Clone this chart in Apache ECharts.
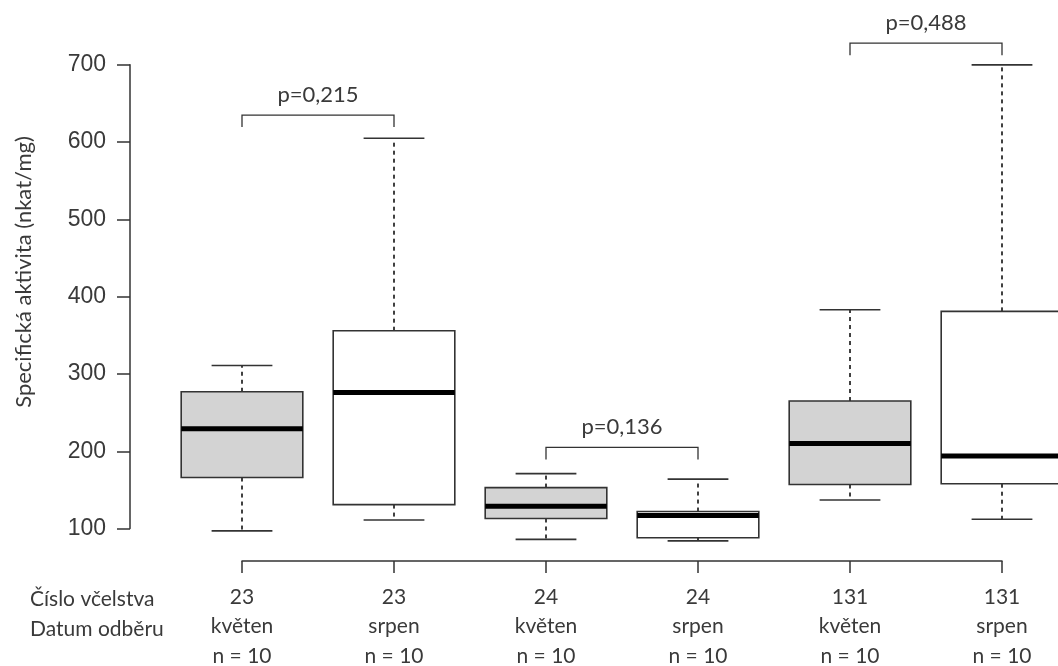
<!DOCTYPE html>
<html lang="cs">
<head>
<meta charset="utf-8">
<title>Specifická aktivita</title>
<script src="https://cdn.jsdelivr.net/npm/echarts@6/dist/echarts.min.js"></script>
<style>
  html, body { margin: 0; padding: 0; background: #ffffff; }
  #chart { width: 1058px; height: 666px; }
</style>
</head>
<body>
<div id="chart"></div>
<script>
// Colony numbers, sampling months and sample sizes for each group
const colonies = ['23', '23', '24', '24', '131', '131'];
const months = ['květen', 'srpen', 'květen', 'srpen', 'květen', 'srpen'];
const sampleSizes = [10, 10, 10, 10, 10, 10];

// Box-plot statistics (nkat/mg)
const lowWhisker  = [97, 111, 86, 84, 137, 112];
const lowerQuart  = [166, 131, 113, 88, 157, 158];
const medians     = [229, 276, 129, 117, 210, 194];
const upperQuart  = [277, 356, 153, 122, 265, 381];
const highWhisker = [311, 605, 171, 164, 383, 700];

// Pairwise comparisons: group indices, bracket level and p-value
const pairFrom = [0, 2, 4];
const pairTo = [1, 3, 5];
const bracketLevel = [635, 205, 728];
const pValues = ['p=0,215', 'p=0,136', 'p=0,488'];

// Value-axis ticks
const yTicks = [100, 200, 300, 400, 500, 600, 700];

const INK = '#333333';
const TEXT = '#3a3a3a';
const HUMANIST = 'Lato, "Open Sans", sans-serif';

// Plot area geometry: the data grid spans PLOT_MIN..PLOT_MAX,
// the visible value axis only covers the labelled tick range.
const PLOT_MIN = 58;
const PLOT_MAX = 780;
const PLOT_TOP = 3;
const PLOT_BOTTOM = 105;
const CHART_H = 666;
const pxPerUnit = (CHART_H - PLOT_TOP - PLOT_BOTTOM) / (PLOT_MAX - PLOT_MIN);
const tickMin = yTicks[0];
const tickMax = yTicks[yTicks.length - 1];
const axisGridTop = PLOT_TOP + (PLOT_MAX - tickMax) * pxPerUnit;
const axisGridBottom = PLOT_BOTTOM + (tickMin - PLOT_MIN) * pxPerUnit;

const categories = colonies.map((c, i) => c + ' ' + months[i]);
const boxData = colonies.map((c, i) => [i, lowWhisker[i], lowerQuart[i], medians[i], upperQuart[i], highWhisker[i]]);
const pairData = pValues.map((p, i) => [pairFrom[i], pairTo[i], bracketLevel[i], i]);

function renderBox(params, api) {
  const idx = api.value(0);
  const band = api.size([1, 0])[0];
  const half = band * 0.4;
  const capHalf = band * 0.2;
  const x = api.coord([idx, 0])[0];
  const yLow = api.coord([idx, api.value(1)])[1];
  const yQ1 = api.coord([idx, api.value(2)])[1];
  const yMed = api.coord([idx, api.value(3)])[1];
  const yQ3 = api.coord([idx, api.value(4)])[1];
  const yHigh = api.coord([idx, api.value(5)])[1];
  const fill = months[idx] === 'květen' ? '#d3d3d3' : '#ffffff';
  const dashed = { stroke: '#404040', lineWidth: 2, lineDash: [4, 4] };
  const solid = { stroke: INK, lineWidth: 1.6 };
  return {
    type: 'group',
    children: [
      { type: 'line', shape: { x1: x, y1: yQ3, x2: x, y2: yHigh }, style: dashed },
      { type: 'line', shape: { x1: x, y1: yQ1, x2: x, y2: yLow }, style: dashed },
      { type: 'line', shape: { x1: x - capHalf, y1: yHigh, x2: x + capHalf, y2: yHigh }, style: solid },
      { type: 'line', shape: { x1: x - capHalf, y1: yLow, x2: x + capHalf, y2: yLow }, style: solid },
      { type: 'rect', shape: { x: x - half, y: yQ3, width: half * 2, height: yQ1 - yQ3 },
        style: { fill: fill, stroke: INK, lineWidth: 1.6 } },
      { type: 'line', shape: { x1: x - half, y1: yMed, x2: x + half, y2: yMed },
        style: { stroke: '#000000', lineWidth: 5 } }
    ]
  };
}

function renderBracket(params, api) {
  const a = api.coord([api.value(0), api.value(2)]);
  const b = api.coord([api.value(1), api.value(2)]);
  const tip = 12;
  const label = pValues[api.value(3)];
  return {
    type: 'group',
    children: [
      { type: 'polyline',
        shape: { points: [[a[0], a[1] + tip], [a[0], a[1]], [b[0], b[1]], [b[0], b[1] + tip]] },
        style: { stroke: INK, lineWidth: 1.3, fill: null } },
      { type: 'text',
        style: { x: (a[0] + b[0]) / 2, y: a[1] - 20, text: label, fill: TEXT,
                 font: '22px ' + HUMANIST, align: 'center', verticalAlign: 'middle' } }
    ]
  };
}

const chart = echarts.init(document.getElementById('chart'), null, { renderer: 'canvas' });

chart.setOption({
  backgroundColor: '#ffffff',
  animation: false,
  grid: [
    { left: 242, right: 56, top: PLOT_TOP, bottom: PLOT_BOTTOM,
      containLabel: false, outerBoundsMode: 'none' },
    { left: 130, width: 1, top: axisGridTop, bottom: axisGridBottom,
      containLabel: false, outerBoundsMode: 'none' }
  ],
  xAxis: [
    {
      type: 'category',
      gridIndex: 0,
      data: categories,
      boundaryGap: false,
      axisLine: { show: true, lineStyle: { color: INK, width: 1.5 } },
      axisTick: { show: true, length: 12, lineStyle: { color: INK, width: 1.5 } },
      axisLabel: {
        interval: 0,
        margin: 21,
        color: TEXT,
        fontFamily: HUMANIST,
        fontSize: 21,
        lineHeight: 29.5,
        showMinLabel: true,
        showMaxLabel: true,
        formatter: (value, i) => colonies[i] + '\n' + months[i] + '\nn = ' + sampleSizes[i]
      },
      splitLine: { show: false }
    },
    { type: 'value', gridIndex: 1, show: false }
  ],
  yAxis: [
    { type: 'value', gridIndex: 0, min: PLOT_MIN, max: PLOT_MAX, show: false },
    {
      type: 'value',
      gridIndex: 1,
      min: tickMin,
      max: tickMax,
      interval: 100,
      splitLine: { show: false },
      axisLine: { show: true, lineStyle: { color: INK, width: 1.5 } },
      axisTick: { show: true, length: 13, lineStyle: { color: INK, width: 1.5 } },
      axisLabel: { margin: 24, color: TEXT,
                   fontFamily: '"Liberation Sans", Arial, sans-serif', fontSize: 23 }
    }
  ],
  graphic: [
    { type: 'text', left: 30, top: 589,
      style: { text: 'Číslo včelstva', fill: TEXT, font: '21px ' + HUMANIST } },
    { type: 'text', left: 30, top: 619,
      style: { text: 'Datum odběru', fill: TEXT, font: '21px ' + HUMANIST } },
    { type: 'text', x: 24, y: 272, rotation: Math.PI / 2,
      style: { text: 'Specifická aktivita (nkat/mg)', fill: TEXT, font: '22px ' + HUMANIST,
               align: 'center', verticalAlign: 'middle' } }
  ],
  series: [
    { type: 'custom', name: 'aktivita', renderItem: renderBox, data: boxData,
      xAxisIndex: 0, yAxisIndex: 0,
      encode: { x: 0, y: [1, 2, 3, 4, 5] }, clip: false },
    { type: 'custom', name: 'p', renderItem: renderBracket, data: pairData,
      xAxisIndex: 0, yAxisIndex: 0,
      encode: { x: [0, 1], y: 2 }, clip: false }
  ]
});
</script>
</body>
</html>
